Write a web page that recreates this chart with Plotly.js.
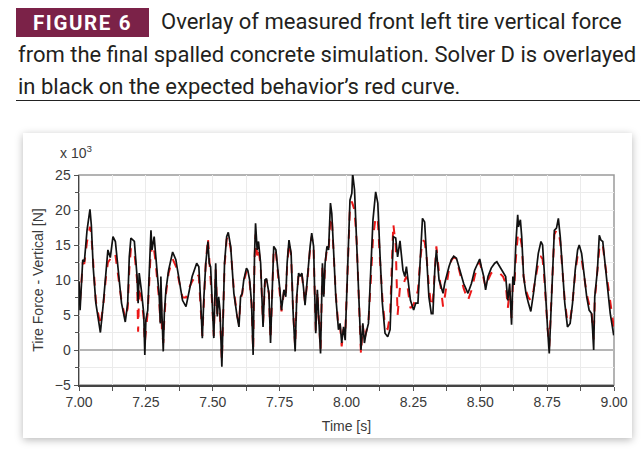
<!DOCTYPE html>
<html>
<head>
<meta charset="utf-8">
<script src="https://cdn.plot.ly/plotly-3.0.1.min.js"></script>
<style>
  html, body { margin:0; padding:0; width:644px; height:452px; background:#fff; overflow:hidden; }
  #head { position:absolute; left:0; top:0; width:644px; font-family:Roboto, sans-serif; color:#231f20; }
  #tag { position:absolute; left:16px; top:8px; width:133px; height:29px; background:#7b2248;
         color:#fff; font-weight:700; font-size:20.5px; letter-spacing:1.6px; line-height:30px; text-align:center; }
  .ln { position:absolute; left:18px; font-size:22px; line-height:26px; white-space:nowrap; }
  #rule { position:absolute; left:16px; top:100px; width:624px; height:0; border-top:1.5px solid #222; }
  #card { position:absolute; left:23px; top:133px; width:609px; height:305px; background:#fff;
          box-shadow:0 2px 8px rgba(0,0,0,0.28); }
  #chartdiv { position:absolute; left:0; top:0; width:644px; height:452px; }
</style>
</head>
<body>
<div id="head">
  <div id="tag">FIGURE 6</div>
  <div class="ln" style="left:161px; top:9px;">Overlay of measured front left tire vertical force</div>
  <div class="ln" style="top:42px;">from the final spalled concrete simulation. Solver D is overlayed</div>
  <div class="ln" style="top:74px;">in black on the expected behavior’s red curve.</div>
  <div id="rule"></div>
</div>
<div id="card"></div>
<div id="chartdiv"></div>
<script>
// time axis [s]
const time = [
  7.000, 7.004, 7.014, 7.020, 7.030, 7.041, 7.046, 7.053, 7.063, 7.080,
  7.091, 7.101, 7.108, 7.117, 7.127, 7.136, 7.146, 7.159, 7.173, 7.182,
  7.188, 7.194, 7.207, 7.217, 7.221, 7.225, 7.233, 7.242, 7.246, 7.250,
  7.257, 7.263, 7.269, 7.273, 7.281, 7.285, 7.294, 7.300, 7.304, 7.306,
  7.310, 7.315, 7.319, 7.325, 7.335, 7.350, 7.362, 7.375, 7.387, 7.400,
  7.411, 7.423, 7.440, 7.448, 7.455, 7.461, 7.467, 7.474, 7.482, 7.487,
  7.492, 7.498, 7.504, 7.511, 7.517, 7.522, 7.527, 7.534, 7.539, 7.544,
  7.552, 7.558, 7.567, 7.579, 7.591, 7.598, 7.604, 7.610, 7.616, 7.626,
  7.631, 7.638, 7.645, 7.651, 7.656, 7.660, 7.666, 7.671, 7.679, 7.685,
  7.688, 7.695, 7.701, 7.710, 7.716, 7.722, 7.728, 7.736, 7.743, 7.751,
  7.757, 7.766, 7.773, 7.778, 7.785, 7.793, 7.800, 7.808, 7.814, 7.821,
  7.827, 7.833, 7.839, 7.845, 7.852, 7.858, 7.864, 7.870, 7.877, 7.880,
  7.885, 7.891, 7.895, 7.903, 7.910, 7.915, 7.920, 7.927, 7.933, 7.940,
  7.945, 7.951, 7.960, 7.970, 7.976, 7.982, 7.989, 7.995, 8.001, 8.007,
  8.013, 8.020, 8.023, 8.030, 8.038, 8.047, 8.054, 8.061, 8.067, 8.073,
  8.082, 8.091, 8.099, 8.109, 8.117, 8.125, 8.134, 8.144, 8.154, 8.163,
  8.169, 8.175, 8.184, 8.191, 8.200,
  8.211, 8.218, 8.224, 8.230, 8.239,
  8.251, 8.259, 8.267, 8.276, 8.284, 8.292, 8.299, 8.308, 8.317, 8.323,
  8.330, 8.336, 8.346, 8.355, 8.361, 8.367, 8.373, 8.383, 8.392, 8.401,
  8.411, 8.423, 8.438, 8.454, 8.467, 8.479, 8.491, 8.498, 8.504, 8.513,
  8.520, 8.529, 8.541, 8.554, 8.562, 8.572, 8.585, 8.595, 8.603, 8.610,
  8.617, 8.622, 8.627, 8.633, 8.640, 8.643, 8.650, 8.655, 8.662, 8.671,
  8.680, 8.689, 8.699, 8.708, 8.717, 8.727, 8.733, 8.739, 8.745, 8.752,
  8.758, 8.764, 8.770, 8.777, 8.785, 8.792, 8.799, 8.808, 8.816, 8.826,
  8.836, 8.845, 8.855, 8.864, 8.870, 8.879, 8.889, 8.898, 8.907, 8.916,
  8.920, 8.924, 8.928, 8.932, 8.938, 8.945, 8.951, 8.958, 8.966, 8.976,
  8.986, 8.994, 8.999
];

// Solver D, black (x 10^3 N)
const solverD = [
  9.8, 5.7, 12.9, 12.6, 17.1, 20.1, 17.9, 11.9, 6.7, 2.5,
  6.7, 11.9, 14.3, 13.2, 16.2, 15.5, 11.9, 6.7, 4.0, 6.7,
  13.3, 16.0, 15.5, 10.5, 6.7, 11.0, 8.6, 5.2, -0.7, 4.3,
  5.7, 11.4, 17.1, 14.3, 16.2, 14.3, 10.5, 7.6, 3.8, 10.5,
  5.2, -0.2, 5.2, 8.6, 11.4, 14.0, 12.9, 10.0, 7.1, 6.2,
  8.1, 10.5, 12.4, 11.9, 6.7, 1.7, 7.6, 12.4, 15.5, 12.4,
  11.9, 6.7, 1.7, 12.4, 4.8, 7.6, 5.7, -2.4, 5.7, 12.4,
  16.2, 16.8, 14.8, 8.1, 4.8, 3.3, 7.6, 8.1, 10.0, 11.7,
  11.4, 10.0, 6.7, -0.7, 13.3, 18.1, 14.3, 15.5, 12.4, 4.8,
  3.3, 10.0, 10.2, 8.1, 1.0, 8.1, 14.8, 14.3, 11.9, 8.6,
  5.7, 8.6, 7.6, 12.4, 15.7, 13.8, 5.7, -0.2, 7.6, 11.0,
  10.5, 11.0, 9.0, 6.4, 9.5, 12.9, 14.8, 16.7, 14.8, 10.0,
  2.4, 8.6, 5.7, -0.5, 12.4, 7.6, 12.4, 14.8, 14.3, 21.0,
  19.5, 14.8, 7.6, 2.9, 3.8, 1.0, 3.3, 1.4, 7.6, 15.2,
  21.4, 22.4, 25.2, 22.9, 16.2, 6.7, 0.0, 3.8, 1.0, 2.4,
  3.8, 11.4, 18.6, 22.6, 21.0, 13.8, 6.7, 2.4, 1.9, 2.9,
  11.4, 16.2, 16.0, 13.3, 15.6,
  11.4, 10.5, 11.9, 10.0, 7.1,
  5.7, 6.7, 6.7, 13.8, 18.8, 18.3, 13.8, 7.6, 5.2, 5.2,
  11.4, 14.3, 10.0, 9.0, 8.1, 9.5, 10.5, 11.9, 12.9, 13.4,
  13.1, 11.4, 9.5, 8.1, 9.5, 11.4, 12.6, 13.0, 11.9, 10.5,
  8.6, 10.5, 11.7, 12.4, 12.6, 11.9, 11.0, 10.5, 7.1, 9.5,
  3.6, 10.5, 9.3, 15.2, 19.3, 17.6, 18.6, 16.2, 10.5, 8.1,
  6.7, 5.5, 8.1, 11.4, 13.8, 15.5, 15.0, 11.4, 6.7, 2.9,
  -0.5, 5.7, 12.4, 17.1, 17.4, 18.8, 16.2, 11.4, 6.7, 3.3,
  3.8, 6.7, 11.4, 14.3, 15.0, 13.8, 10.5, 7.6, 5.7, 5.2,
  2.9, 0.0, 7.6, 9.3, 11.4, 16.4, 15.7, 15.5, 12.4, 8.6,
  5.2, 3.3, 2.1
];

// expected behavior, red dashed (x 10^3 N)
const expected = [
  9.5, 7.0, 12.4, 12.4, 15.5, 17.6, 16.5, 12.0, 7.0, 3.5,
  6.5, 10.5, 12.5, 13.0, 13.8, 13.6, 11.0, 7.0, 4.5, 6.0,
  11.5, 14.5, 14.0, 10.0, 2.6, 9.0, 7.5, 4.5, 1.0, 2.5,
  5.5, 10.0, 14.8, 13.5, 14.2, 13.0, 9.5, 7.0, 4.0, 8.0,
  3.0, 1.0, 4.5, 8.0, 11.0, 13.0, 12.0, 9.5, 7.5, 7.5,
  8.8, 9.8, 11.0, 10.5, 6.5, 2.0, 7.0, 12.5, 16.0, 13.0,
  11.5, 6.5, 2.0, 11.5, 5.0, 7.0, 5.0, -1.5, 5.0, 12.0,
  15.8, 16.3, 14.5, 8.5, 5.0, 3.8, 7.3, 8.0, 9.8, 11.2,
  11.0, 9.6, 6.5, 0.0, 12.5, 16.5, 13.5, 14.5, 12.0, 5.0,
  3.8, 9.5, 10.0, 8.0, 1.5, 7.8, 14.5, 14.0, 11.5, 8.3,
  5.5, 8.3, 7.5, 12.0, 15.3, 13.5, 6.0, 0.5, 7.5, 10.8,
  10.3, 10.8, 9.0, 6.8, 9.2, 12.6, 14.5, 16.2, 14.5, 10.0,
  2.8, 8.4, 6.0, 0.0, 12.0, 8.0, 12.2, 14.5, 14.2, 19.0,
  18.8, 14.5, 8.0, 3.2, 3.5, 0.5, 3.0, 2.0, 8.0, 14.5,
  20.5, 21.2, 20.8, 20.0, 15.5, 6.5, -0.5, 3.5, 1.5, 2.5,
  4.0, 10.0, 16.0, 19.0, 18.5, 13.0, 7.5, 3.3, 3.0, 5.0,
  12.0, 18.0, 15.0, 5.0, 9.0,
  9.0, 10.0, 10.5, 8.5, 6.0,
  6.5, 7.5, 8.5, 13.0, 15.7, 15.5, 13.5, 9.0, 6.2, 7.0,
  12.0, 14.8, 11.0, 8.0, 6.2, 7.5, 9.0, 11.5, 12.8, 13.3,
  13.0, 11.0, 8.8, 7.1, 8.5, 10.5, 12.2, 12.6, 11.5, 10.0,
  9.0, 10.0, 11.0, 11.2, 11.2, 11.0, 10.5, 9.5, 6.0, 8.5,
  4.5, 9.5, 9.0, 13.0, 16.2, 15.5, 16.0, 15.0, 10.5, 8.5,
  7.5, 7.1, 8.5, 10.5, 12.5, 13.3, 13.0, 10.5, 6.5, 3.0,
  0.5, 5.5, 12.0, 16.5, 17.1, 17.0, 15.5, 11.0, 7.0, 4.0,
  4.2, 6.8, 11.0, 13.5, 13.6, 13.0, 10.5, 8.0, 6.5, 5.5,
  3.5, 1.5, 7.0, 9.0, 11.0, 14.5, 15.2, 15.0, 12.5, 9.5,
  6.5, 4.5, 3.3
];

const xTicks = [7, 7.25, 7.5, 7.75, 8, 8.25, 8.5, 8.75, 9];
const yTicks = [-5, 0, 5, 10, 15, 20, 25];

const tickFont = {family: 'Liberation Sans, Arial, sans-serif', size: 14, color: '#3a3a3a'};
const gridColor = '#ebebeb';

const data = [
  {
    x: time, y: expected, name: 'Expected',
    mode: 'lines', type: 'scatter',
    line: {color: 'rgb(236,24,24)', width: 2, dash: 'dash'}
  },
  {
    x: time, y: solverD, name: 'Solver D',
    mode: 'lines', type: 'scatter',
    line: {color: '#111111', width: 1.7}
  }
];

const layout = {
  width: 644, height: 452,
  margin: {l: 79, r: 30, t: 175, b: 67},
  paper_bgcolor: 'rgba(0,0,0,0)',
  plot_bgcolor: 'rgba(0,0,0,0)',
  showlegend: false,
  xaxis: {
    range: [7, 9],
    tickvals: xTicks,
    tickformat: '.2f',
    ticks: 'outside', ticklen: 4, tickcolor: '#555',
    showgrid: true, gridcolor: gridColor,
    minor: {dtick: 0.125, tick0: 7, ticks: 'outside', ticklen: 4, tickcolor: '#555', showgrid: true, gridcolor: gridColor},
    showline: true, linecolor: '#444', linewidth: 1.5,
    zeroline: false,
    tickfont: tickFont,
    title: {text: 'Time [s]', font: tickFont, standoff: 12}
  },
  yaxis: {
    range: [-5, 25],
    tickvals: yTicks,
    ticks: 'outside', ticklen: 4, tickcolor: '#555',
    showgrid: true, gridcolor: gridColor,
    minor: {dtick: 2.5, tick0: 0, ticks: 'outside', ticklen: 3, tickcolor: '#555', showgrid: true, gridcolor: gridColor},
    showline: true, linecolor: '#444', linewidth: 1.5,
    zeroline: true, zerolinecolor: '#b5b5b5', zerolinewidth: 1.5,
    tickfont: tickFont,
    title: {text: 'Tire Force - Vertical [N]', font: tickFont, standoff: 8}
  },
  shapes: [
    {type: 'rect', xref: 'paper', yref: 'paper', x0: 0, x1: 1, y0: 0, y1: 1,
     line: {color: '#9a9a9a', width: 1.5}, layer: 'below'}
  ],
  annotations: [
    {xref: 'paper', yref: 'paper', x: -0.04, y: 1.11, xanchor: 'left', yanchor: 'middle',
     text: 'x 10<sup>3</sup>', showarrow: false, font: tickFont}
  ]
};

Plotly.newPlot(chartdiv, data, layout, {staticPlot: true});
</script>
</body>
</html>
